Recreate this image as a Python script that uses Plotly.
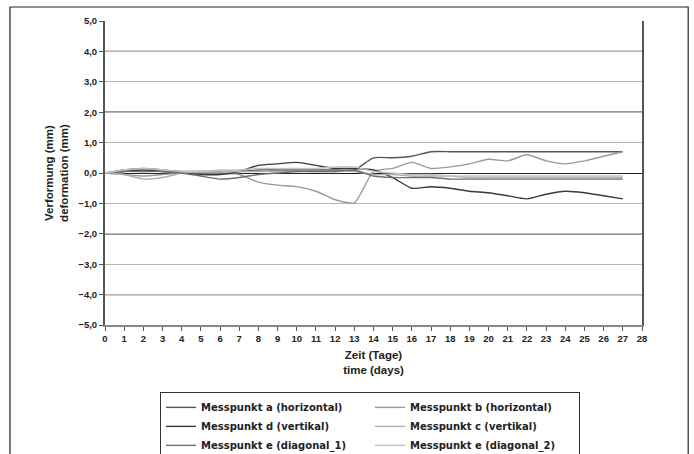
import plotly.graph_objects as go

days = list(range(28))

names = [
    "Messpunkt a (horizontal)",
    "Messpunkt b (horizontal)",
    "Messpunkt d (vertikal)",
    "Messpunkt c (vertikal)",
    "Messpunkt e (diagonal_1)",
    "Messpunkt e (diagonal_2)",
]

mp_a = [0, 0.1, 0.15, 0.1, 0.05, 0.05, 0.05, 0.05, 0.1, 0.1, 0.1, 0.1, 0.1, 0.1,
        0.5, 0.5, 0.55, 0.7, 0.7, 0.7, 0.7, 0.7, 0.7, 0.7, 0.7, 0.7, 0.7, 0.7]
mp_b = [0, -0.05, -0.1, -0.05, 0, 0, 0, -0.05, -0.3, -0.4, -0.45, -0.6, -0.88, -0.98,
        0.05, 0.15, 0.35, 0.15, 0.2, 0.3, 0.45, 0.4, 0.6, 0.4, 0.3, 0.4, 0.55, 0.7]
mp_d = [0, 0.05, 0.1, 0.05, 0, -0.05, -0.05, 0.05, 0.25, 0.3, 0.35, 0.25, 0.15, 0.15,
        0.1, -0.15, -0.5, -0.45, -0.5, -0.6, -0.65, -0.75, -0.85, -0.7, -0.6, -0.65, -0.75, -0.85]
mp_c = [0, -0.05, -0.2, -0.15, 0, 0.05, 0.05, 0.05, 0.05, 0.05, 0.05, 0.05, 0.05, 0.05,
        -0.05, -0.05, -0.1, -0.1, -0.1, -0.15, -0.15, -0.15, -0.15, -0.15, -0.15, -0.15, -0.15, -0.15]
mp_e1 = [0, 0.05, 0.05, 0.05, 0, -0.1, -0.2, -0.15, -0.05, 0, 0.05, 0.05, 0.05, 0.1,
         -0.1, -0.15, -0.15, -0.15, -0.2, -0.2, -0.2, -0.2, -0.2, -0.2, -0.2, -0.2, -0.2, -0.2]
mp_e2 = [0, 0.1, 0.15, 0.1, 0.05, 0.05, 0.1, 0.1, 0.15, 0.15, 0.15, 0.15, 0.2, 0.2,
         0.05, 0, -0.05, -0.05, -0.1, -0.1, -0.1, -0.1, -0.1, -0.1, -0.1, -0.1, -0.1, -0.1]

series = [mp_a, mp_b, mp_d, mp_c, mp_e1, mp_e2]
colors = ["#555555", "#9a9a9a", "#3a3a3a", "#b0b0b0", "#6e6e6e", "#c2c2c2"]

y_ticks = [-5, -4, -3, -2, -1, 0, 1, 2, 3, 4, 5]
dark_grid = [-4, -2, 2, 4]
x_ticks = list(range(29))

FONT = "Liberation Sans, Arial, sans-serif"
LEGFONT = "DejaVu Sans, Liberation Sans, sans-serif"

fig = go.Figure()
for nm, vals, col in zip(names, series, colors):
    fig.add_trace(go.Scatter(x=days, y=vals, name=nm, mode="lines",
                             line=dict(color=col, width=1.4, shape="spline", smoothing=0.6)))

shapes = []
for yv in dark_grid:
    shapes.append(dict(type="line", xref="paper", yref="y", x0=0, x1=1, y0=yv, y1=yv,
                       line=dict(color="#333333", width=1.2), layer="below"))
# outer chart frame
shapes.append(dict(type="rect", xref="paper", yref="paper",
                   x0=-0.177, x1=1.086, y0=-0.45, y1=1.046,
                   line=dict(color="#222222", width=1.2)))

fig.update_layout(
    width=694, height=454,
    margin=dict(l=105, r=52, t=21, b=129, autoexpand=False),
    paper_bgcolor="white", plot_bgcolor="white",
    separators=",.",
    font=dict(family=FONT, color="#222222"),
    showlegend=True,
    legend=dict(orientation="h", x=0.1024, xanchor="left", y=-0.220, yanchor="top",
                bordercolor="#333333", borderwidth=1, bgcolor="white",
                font=dict(family=LEGFONT, size=10, color="#222222", weight="bold"),
                entrywidth=164, entrywidthmode="pixels", tracegroupgap=0,
                itemwidth=30),
    shapes=shapes,
    xaxis=dict(range=[0, 28], tickmode="array", tickvals=x_ticks,
               ticktext=[str(v) for v in x_ticks],
               showgrid=False, zeroline=False,
               showline=True, linecolor="#888888", linewidth=2,
               ticks="outside", ticklen=4, tickcolor="#555555",
               tickfont=dict(family=FONT, size=9.5, color="#222222", weight="bold"),
               title=dict(text="Zeit (Tage)<br>time (days)", standoff=8,
                          font=dict(family=FONT, size=11.5, color="#222222", weight="bold"))),
    yaxis=dict(range=[-5, 5], tickmode="array", tickvals=y_ticks,
               tickformat=".1f",
               showgrid=True, gridcolor="#b5b5b5", gridwidth=1,
               zeroline=True, zerolinecolor="#222222", zerolinewidth=1.3,
               showline=True, linecolor="#555555", linewidth=2, mirror=True,
               ticks="outside", ticklen=4, tickcolor="#555555",
               tickfont=dict(family=FONT, size=9.5, color="#222222", weight="bold"),
               title=dict(text="Verformung (mm)<br>deformation (mm)", standoff=7,
                          font=dict(family=FONT, size=11.5, color="#222222", weight="bold"))),
)

fig.write_html("out.html", config={"displayModeBar": False},
               post_script="document.body.style.margin='0px';")
